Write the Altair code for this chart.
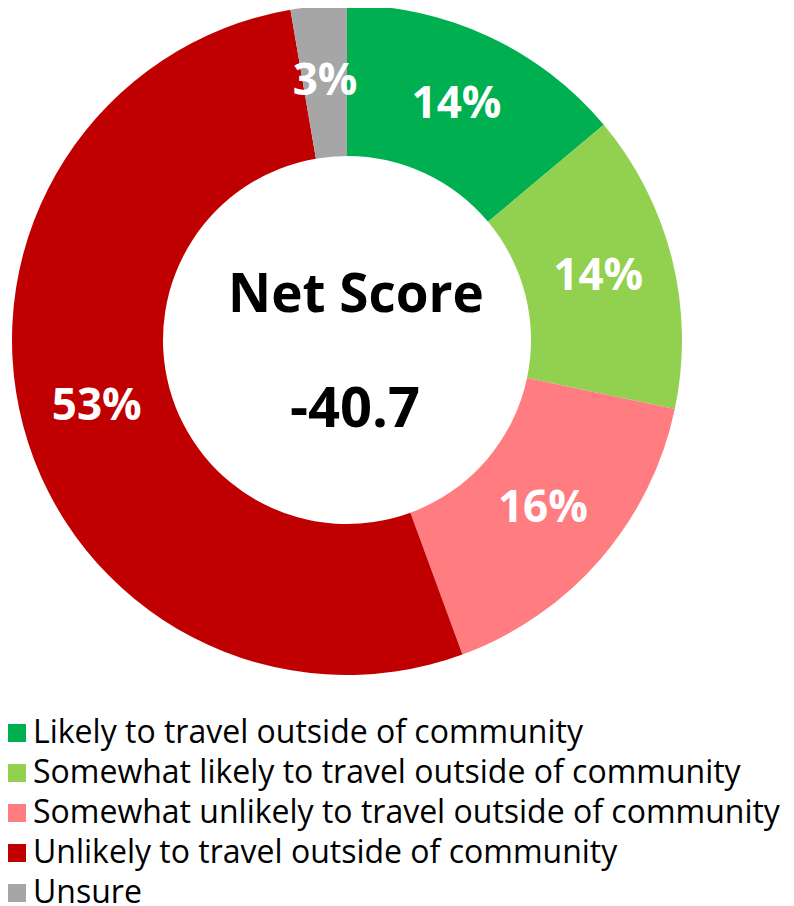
import altair as alt
import pandas as pd

categories = [
    "Likely to travel outside of community",
    "Somewhat likely to travel outside of community",
    "Somewhat unlikely to travel outside of community",
    "Unlikely to travel outside of community",
    "Unsure",
]
values = [13.9, 14.4, 16.1, 52.9, 2.7]
labels = ["14%", "14%", "16%", "53%", "3%"]
colors = ["#00B050", "#92D050", "#FF7C80", "#C00000", "#A6A6A6"]
center_title = "Net Score"
center_value = "-40.7"

df = pd.DataFrame({
    "category": categories,
    "value": values,
    "label": labels,
    "order": list(range(len(categories))),
})

CX, CY = 339, 332
FONT = "Open Sans"

base = alt.Chart(df).encode(
    theta=alt.Theta("value:Q", stack=True),
    order=alt.Order("order:Q"),
)

arcs = base.mark_arc(radius=335, radius2=184, x=CX, y=CY).encode(
    color=alt.Color(
        "category:N",
        scale=alt.Scale(domain=categories, range=colors),
        sort=categories,
        legend=alt.Legend(
            orient="none",
            legendX=-7,
            legendY=709,
            padding=0,
            title=None,
            symbolType="square",
            symbolSize=324,
            symbolStrokeWidth=0,
            symbolOffset=0,
            labelFont=FONT,
            labelFontSize=32,
            labelColor="black",
            labelLimit=900,
            labelOffset=0,
            rowPadding=8,
        ),
    )
)

pct = base.mark_text(
    radius=259, x=CX, y=CY, font=FONT, fontSize=44, fontWeight="bold", color="white"
).encode(text="label:N")

title_txt = alt.Chart(pd.DataFrame({"t": [center_title]})).mark_text(
    x=CX + 9, y=304, baseline="alphabetic", font=FONT, fontSize=53, fontWeight="bold", color="black"
).encode(text="t:N")

value_txt = alt.Chart(pd.DataFrame({"t": [center_value]})).mark_text(
    x=CX + 8, y=419, baseline="alphabetic", font=FONT, fontSize=56, fontWeight="bold", color="black"
).encode(text="t:N")

chart = alt.layer(arcs, pct, title_txt, value_txt).properties(
    width=778, height=898, autosize=alt.AutoSizeParams(type="none"), padding=0
).configure_view(stroke=None)

chart.save("out.html", embed_options={"renderer": "svg", "actions": False})
